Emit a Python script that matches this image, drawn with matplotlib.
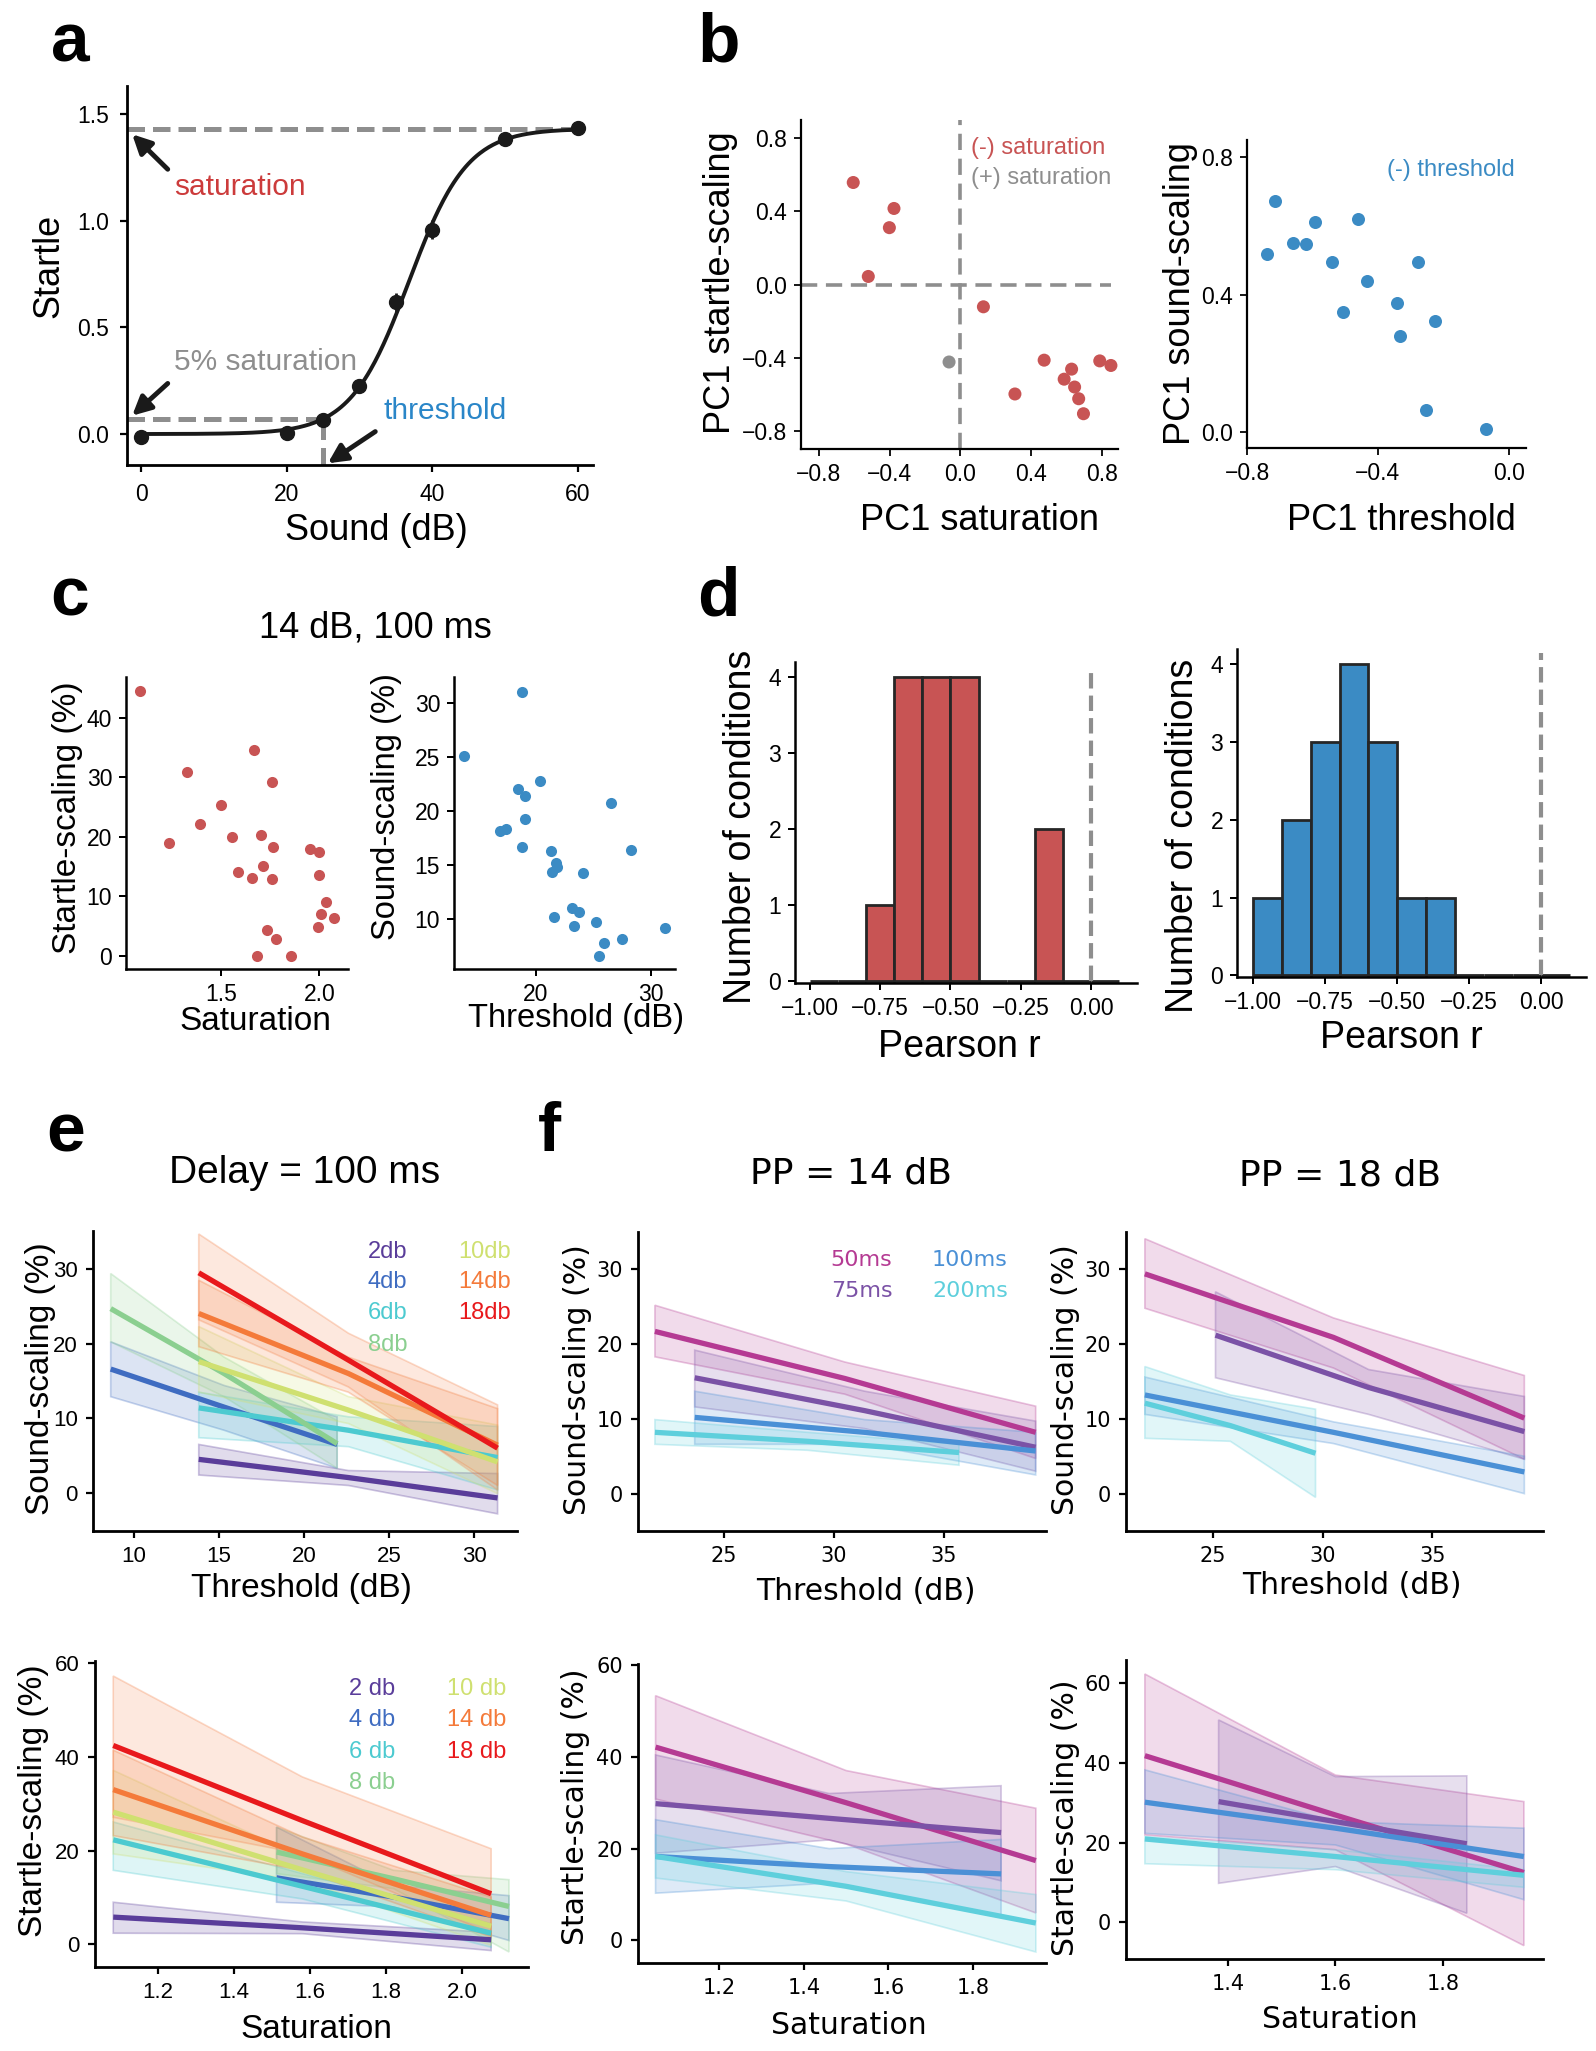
import numpy as np
import matplotlib
matplotlib.use('Agg')
import matplotlib.pyplot as plt
from matplotlib.colors import to_rgba
from matplotlib.ticker import FuncFormatter

W, H = 1596, 2051
SANS = 'Liberation Sans'
TAH = 'DejaVu Sans'

RED = '#c85454'
BLUE = '#3b8bc4'
GRAY = '#8e8e8e'

# ---- panel a: example startle curve ----
SOUND_DB = [0, 20, 25, 30, 35, 40, 50, 60]
STARTLE = [-0.013, 0.006, 0.066, 0.226, 0.617, 0.957, 1.381, 1.431]
STARTLE_ERR = [0.01, 0.01, 0.015, 0.02, 0.045, 0.045, 0.015, 0.02]
FIT_SAT = 1.43      # fitted saturation
FIT_MID = 36.8      # fitted midpoint (dB)
FIT_SLOPE = 4.0     # fitted slope (dB)
THRESH_DB = 25.0

# ---- panel b: PCA loadings ----
PC1_SAT = [-0.605, -0.375, -0.401, -0.52, 0.13, 0.473, 0.308, 0.628, 0.586,
           0.645, 0.668, 0.695, 0.787, 0.85, -0.064]
PC1_STARTLE = [0.558, 0.416, 0.311, 0.044, -0.122, -0.414, -0.599, -0.463,
               -0.518, -0.561, -0.625, -0.707, -0.418, -0.443, -0.424]
SAT_POSITIVE = [0] * 14 + [1]
PC1_THR = [-0.738, -0.713, -0.660, -0.619, -0.593, -0.540, -0.508, -0.460,
           -0.432, -0.342, -0.333, -0.278, -0.225, -0.253, -0.069]
PC1_SOUND = [0.519, 0.674, 0.551, 0.546, 0.611, 0.496, 0.350, 0.619, 0.440,
             0.374, 0.280, 0.494, 0.324, 0.064, 0.008]

# ---- panel c: 14 dB, 100 ms ----
SAT_C = [1.086, 1.233, 1.328, 1.394, 1.498, 1.557, 1.588, 1.658, 1.667, 1.701,
         1.712, 1.731, 1.758, 1.762, 1.760, 1.778, 1.681, 1.855, 1.952, 1.998,
         2.0, 2.032, 2.007, 2.075, 1.993]
STARTLE_C = [44.4, 19.0, 30.9, 22.2, 25.4, 19.9, 14.0, 13.0, 34.6, 20.3, 15.1,
             4.4, 29.2, 18.3, 12.9, 2.8, 0.0, 0.0, 18.0, 17.4, 13.6, 9.0, 7.0,
             6.3, 4.8]
THR_C = [13.77, 18.83, 18.44, 19.1, 20.35, 19.03, 16.89, 17.39, 18.83, 21.36,
         21.75, 21.87, 21.44, 24.09, 26.5, 28.29, 23.11, 23.77, 21.63, 23.35,
         25.25, 25.91, 25.53, 27.47, 31.25]
SOUND_C = [25.07, 31.0, 22.05, 21.4, 22.8, 19.3, 18.17, 18.3, 16.7, 16.26, 15.2,
           14.84, 14.31, 14.22, 20.7, 16.4, 11.0, 10.65, 10.15, 9.38, 9.75,
           7.75, 6.6, 8.15, 9.14]

# ---- panel d: histograms of Pearson r ----
BIN_LEFT = [-1.0, -0.9, -0.8, -0.7, -0.6, -0.5, -0.4, -0.3, -0.2, -0.1, 0.0]
R_SAT_COUNTS = [0, 0, 1, 4, 4, 4, 0, 0, 2, 0, 0]
R_THR_COUNTS = [1, 2, 3, 4, 3, 1, 1, 0, 0, 0, 0]

# ---- panel e: delay = 100 ms, fits per prepulse (start, middle, end) ----
E_COLORS = ['#5a3d9a', '#3f6cc1', '#4ccad0', '#8bcf90', '#cfe070', '#f47a3a', '#e8191c']
E_THR_LABELS = ['2db', '4db', '6db', '8db', '10db', '14db', '18db']
E_THR_X = [(13.81, 22.6, 31.36), (8.64, 15.3, 21.94), (13.81, 22.6, 31.36),
           (8.64, 15.3, 21.94), (13.81, 22.6, 31.36), (13.81, 22.6, 31.36),
           (13.81, 22.6, 31.36)]
E_THR_Y = [(4.5, 2.06, -0.67), (16.6, 11.5, 6.5), (11.4, 8.4, 4.74), (24.7, 16.0, 6.6),
           (17.6, 11.1, 4.16), (24.05, 16.0, 6.4), (29.5, 17.8, 6.0)]
E_THR_LO = [(2.4, 1.0, -2.8), (12.9, 8.4, 3.3), (7.4, 6.2, 0.4), (20.25, 12.9, 3.3),
            (13.5, 9.3, -0.1), (19.6, 13.5, 1.0), (23.2, 14.2, 0.4)]
E_THR_HI = [(6.5, 3.0, 2.6), (20.25, 14.4, 10.2), (13.5, 10.2, 8.9), (29.4, 18.2, 9.7),
            (22.3, 12.9, 9.1), (28.5, 18.2, 11.3), (34.7, 21.4, 11.8)]

E_SAT_LABELS = ['2 db', '4 db', '6 db', '8 db', '10 db', '14 db', '18 db']
E_SAT_X = [(1.082, 1.58, 2.077), (1.512, 1.82, 2.124), (1.082, 1.58, 2.077),
           (1.512, 1.82, 2.124), (1.082, 1.58, 2.077), (1.082, 1.58, 2.077),
           (1.082, 1.58, 2.077)]
E_SAT_Y = [(5.83, 3.55, 1.0), (14.2, 10.1, 5.5), (22.3, 12.4, 2.4), (19.7, 14.0, 8.1),
           (28.2, 15.9, 3.9), (33.0, 19.3, 6.2), (42.4, 26.4, 10.8)]
E_SAT_LO = [(2.4, 2.3, -1.3), (9.0, 8.0, 0.85), (15.8, 9.7, -0.6), (15.1, 11.9, -1.6),
            (19.3, 13.6, -0.2), (23.2, 15.8, 1.6), (27.1, 19.3, 2.3)]
E_SAT_HI = [(9.0, 4.8, 2.6), (25.0, 12.6, 10.4), (26.1, 15.1, 4.4), (25.0, 15.8, 13.8),
            (37.1, 18.6, 6.5), (41.4, 22.9, 10.1), (57.2, 35.7, 20.4)]
# the 18 db band reads as peach in the figure
E_BAND_COLORS = ['#5a3d9a', '#3f6cc1', '#4ccad0', '#8bcf90', '#cfe070', '#f47a3a', '#f4824a']

# ---- panel f: fits per delay ----
F_COLORS = ['#b53a93', '#7b52a6', '#4a90d6', '#5ecfdc']
F_LABELS = ['50ms', '75ms', '100ms', '200ms']

F14_THR_X = [(21.85, 30.5, 39.18), (23.66, 31.4, 39.18), (23.66, 31.4, 39.18), (21.85, 28.8, 35.69)]
F14_THR_Y = [(21.7, 15.4, 8.2), (15.5, 11.1, 6.2), (10.2, 8.2, 5.7), (8.2, 7.0, 5.5)]
F14_THR_LO = [(18.3, 13.3, 4.7), (11.6, 8.7, 3.0), (6.6, 6.6, 2.5), (6.6, 5.8, 3.8)]
F14_THR_HI = [(25.2, 17.6, 11.7), (19.2, 13.7, 9.7), (13.7, 9.9, 8.2), (9.9, 8.2, 6.6)]

F18_THR_X = [(21.9, 30.5, 39.2), (25.12, 32.1, 39.2), (21.9, 30.5, 39.2), (21.9, 25.8, 29.68)]
F18_THR_Y = [(29.4, 20.9, 10.1), (21.2, 14.2, 8.3), (13.2, 8.2, 2.9), (12.1, 9.1, 5.4)]
F18_THR_LO = [(24.8, 16.8, 4.6), (15.5, 10.6, 4.6), (10.6, 6.7, 0.0), (7.4, 7.0, -0.5)]
F18_THR_HI = [(34.1, 23.5, 15.8), (27.0, 16.6, 13.0), (15.6, 9.6, 5.0), (17.0, 13.2, 11.3)]

F14_SAT_X = [(1.05, 1.5, 1.948), (1.05, 1.46, 1.866), (1.05, 1.46, 1.866), (1.05, 1.5, 1.948)]
F14_SAT_Y = [(42.1, 30.0, 17.4), (29.8, 26.6, 23.5), (18.3, 16.1, 14.5), (18.3, 11.8, 3.8)]
F14_SAT_LO = [(30.8, 21.0, 6.0), (19.0, 21.9, 13.0), (10.3, 12.5, 5.0), (13.6, 8.6, -2.5)]
F14_SAT_HI = [(53.3, 37.0, 28.8), (40.4, 32.0, 33.7), (26.3, 20.0, 22.0), (23.0, 15.0, 10.0)]

F18_SAT_X = [(1.246, 1.6, 1.95), (1.383, 1.6, 1.844), (1.246, 1.6, 1.95), (1.246, 1.6, 1.95)]
F18_SAT_Y = [(41.75, 26.9, 12.5), (30.25, 25.25, 19.7), (30.1, 23.6, 16.5), (20.9, 16.5, 11.8)]
F18_SAT_LO = [(21.9, 18.2, -5.8), (9.8, 14.0, 2.3), (22.3, 19.4, 5.7), (14.7, 13.2, 8.8)]
F18_SAT_HI = [(62.2, 36.9, 30.25), (50.7, 36.5, 36.7), (38.2, 25.25, 23.6), (21.5, 18.2, 13.2)]


def add_axes_px(fig, x0, y0, x1, y1):
    return fig.add_axes([x0 / W, 1 - y1 / H, (x1 - x0) / W, (y1 - y0) / H])


def px_text(fig, x, y, s, **kw):
    fig.text(x / W, 1 - y / H, s, **kw)


def minus_fmt(fmt):
    return FuncFormatter(lambda v, p: fmt.format(v).replace('-', '\u2212'))


def style(ax, family, size, lw=1.8, pad=5):
    for s in ['top', 'right']:
        ax.spines[s].set_visible(False)
    for s in ['left', 'bottom']:
        ax.spines[s].set_linewidth(lw)
    ax.tick_params(width=lw * 0.8, length=5, labelsize=size, pad=pad,
                   labelfontfamily=family)


def labels(fig, xl, yl, xpos, ypos, family, size):
    px_text(fig, xpos[0], xpos[1], xl, ha='center', va='center', family=family, fontsize=size)
    px_text(fig, ypos[0], ypos[1], yl, ha='center', va='center', rotation=90,
            family=family, fontsize=size)


def draw_fits(ax, xs, ys, los, his, colors, band_colors=None, lw=3.8, alpha=0.2):
    band_colors = band_colors or colors
    for x, lo, hi, c in zip(xs, los, his, band_colors):
        px = list(x) + list(x[::-1])
        py = list(lo) + list(hi[::-1])
        ax.fill(px, py, facecolor=to_rgba(c, alpha), edgecolor=to_rgba(c, 0.3), lw=1.2)
    for x, y, c in zip(xs, ys, colors):
        ax.plot(x, y, color=c, lw=lw, solid_capstyle='butt')


fig = plt.figure(figsize=(W / 100, H / 100), dpi=100)

# ================= a =================
ax = add_axes_px(fig, 127, 86, 593, 465)
xs = np.linspace(0, 60, 300)
ax.plot(xs, FIT_SAT / (1 + np.exp(-(xs - FIT_MID) / FIT_SLOPE)), color='#1a1a1a', lw=2.8)
ax.errorbar(SOUND_DB, STARTLE, yerr=STARTLE_ERR, fmt='o', color='#1a1a1a', ms=10,
            elinewidth=2, capsize=0)
dash = (0, (3.5, 1.6))
five = 0.05 * FIT_SAT
ax.plot([-1.96, 61], [FIT_SAT, FIT_SAT], color=GRAY, lw=3.6, ls=dash, zorder=0)
ax.plot([-1.96, THRESH_DB], [five, five], color=GRAY, lw=3.6, ls=dash, zorder=0)
ax.plot([THRESH_DB, THRESH_DB], [-0.145, five], color=GRAY, lw=3.6, ls=dash, zorder=0)
arrow = dict(arrowstyle='-|>', lw=3.5, color='#1a1a1a', mutation_scale=28, shrinkA=0, shrinkB=0)
ax.annotate('', xy=(-1.25, 1.404), xytext=(3.64, 1.24), arrowprops=arrow, annotation_clip=False)
ax.annotate('', xy=(-1.25, 0.086), xytext=(3.64, 0.237), arrowprops=arrow, annotation_clip=False)
ax.annotate('', xy=(25.65, -0.137), xytext=(32.17, 0.0115), arrowprops=arrow, annotation_clip=False)
ax.text(4.46, 1.157, 'saturation', color='#cc3b3b', fontsize=21.5, family=SANS, va='center')
ax.text(4.46, 0.336, '5% saturation', color=GRAY, fontsize=21.5, family=SANS, va='center')
ax.text(33.26, 0.11, 'threshold', color='#2a86c8', fontsize=21.5, family=SANS, va='center')
ax.set_xlim(-1.96, 62.1)
ax.set_ylim(-0.145, 1.63)
ax.set_xticks([0, 20, 40, 60])
ax.set_yticks([0, 0.5, 1.0, 1.5])
ax.yaxis.set_major_formatter(minus_fmt('{:.1f}'))
style(ax, SANS, 16.5, lw=2.0, pad=8)
labels(fig, 'Sound (dB)', 'Startle', (376, 530), (49, 266), SANS, 26)

# ================= b =================
ax = add_axes_px(fig, 801, 120, 1118, 449)
cols = [GRAY if p else RED for p in SAT_POSITIVE]
bdash = (0, (4.5, 2.4))
ax.plot([0, 0], [-0.9, 0.9], color=GRAY, lw=2.6, ls=bdash, zorder=0)
ax.plot([-0.9, 0.85], [0, 0], color=GRAY, lw=2.6, ls=bdash, zorder=0)
ax.scatter(PC1_SAT, PC1_STARTLE, c=cols, s=88, lw=0)
ax.text(0.058, 0.746, '(-) saturation', color=RED, fontsize=17, family=SANS, va='center')
ax.text(0.058, 0.58, '(+) saturation', color=GRAY, fontsize=17, family=SANS, va='center')
ax.set_xlim(-0.9, 0.89)
ax.set_ylim(-0.9, 0.9)
ticks = [-0.8, -0.4, 0.0, 0.4, 0.8]
ax.set_xticks(ticks)
ax.set_yticks(ticks)
ax.xaxis.set_major_formatter(minus_fmt('{:.1f}'))
ax.yaxis.set_major_formatter(minus_fmt('{:.1f}'))
style(ax, SANS, 16.5, lw=1.6)
labels(fig, 'PC1 saturation', 'PC1 startle-scaling', (979, 521), (721, 283), SANS, 26)

ax = add_axes_px(fig, 1247, 140, 1526, 448)
ax.scatter(PC1_THR, PC1_SOUND, color=BLUE, s=88, lw=0)
ax.text(-0.372, 0.762, '(-) threshold', color=BLUE, fontsize=17, family=SANS, va='center')
ax.set_xlim(-0.8, 0.053)
ax.set_ylim(-0.048, 0.851)
ax.set_xticks([-0.8, -0.4, 0.0])
ax.set_yticks([0.0, 0.4, 0.8])
ax.xaxis.set_major_formatter(minus_fmt('{:.1f}'))
ax.yaxis.set_major_formatter(minus_fmt('{:.1f}'))
style(ax, SANS, 16.5, lw=1.6)
labels(fig, 'PC1 threshold', 'PC1 sound-scaling', (1401, 521), (1180, 294), SANS, 26)

# ================= c =================
ax = add_axes_px(fig, 126, 677, 348, 969)
ax.scatter(SAT_C, STARTLE_C, color=RED, s=64, lw=0)
ax.set_xlim(1.017, 2.145)
ax.set_ylim(-2.2, 46.8)
ax.set_xticks([1.5, 2.0])
ax.set_yticks([0, 10, 20, 30, 40])
ax.xaxis.set_major_formatter(minus_fmt('{:.1f}'))
style(ax, SANS, 16.5)
labels(fig, 'Saturation', 'Startle-scaling (%)', (255, 1022), (68, 818), SANS, 24)

ax = add_axes_px(fig, 454, 677, 675, 969)
ax.scatter(THR_C, SOUND_C, color=BLUE, s=64, lw=0)
ax.set_xlim(12.9, 32.1)
ax.set_ylim(5.37, 32.4)
ax.set_xticks([20, 30])
ax.set_yticks([10, 15, 20, 25, 30])
style(ax, SANS, 16.5)
labels(fig, 'Threshold (dB)', 'Sound-scaling (%)', (576, 1019), (387, 807), SANS, 23.5)
px_text(fig, 375, 628, '14 dB, 100 ms', ha='center', va='center', family=SANS, fontsize=26)

# ================= d =================
for rect, counts, color, xl, yl, xlim, ylim in [
        ((795, 662, 1137, 983), R_SAT_COUNTS, RED, (959, 1047), (741, 827), (-1.052, 0.163), (-0.02, 4.2)),
        ((1237, 649, 1586, 977), R_THR_COUNTS, BLUE, (1401, 1038), (1183, 836), (-1.056, 0.155), (-0.02, 4.19))]:
    ax = add_axes_px(fig, *rect)
    ax.bar(BIN_LEFT, counts, width=0.1, align='edge', color=color, edgecolor='#262626', lw=2)
    ax.plot([0, 0], [0, ylim[1] - 0.05], color=GRAY, lw=3, ls=(0, (3.7, 1.7)))
    ax.set_xlim(*xlim)
    ax.set_ylim(*ylim)
    ax.set_xticks([-1.0, -0.75, -0.5, -0.25, 0.0])
    ax.set_yticks([0, 1, 2, 3, 4])
    ax.xaxis.set_major_formatter(minus_fmt('{:.2f}'))
    style(ax, SANS, 16.5)
    labels(fig, 'Pearson r', 'Number of conditions', xl, yl, SANS, 27)

# ================= e =================
ax = add_axes_px(fig, 93, 1231, 517, 1531)
draw_fits(ax, E_THR_X, E_THR_Y, E_THR_LO, E_THR_HI, E_COLORS, E_BAND_COLORS, alpha=0.18)
for i, (lab, c) in enumerate(zip(E_THR_LABELS, E_COLORS)):
    x = 23.73 if i < 4 else 29.04
    y = [32.3, 28.2, 24.05, 19.8][i if i < 4 else i - 4]
    ax.text(x, y, lab, color=c, fontsize=17, family=SANS, va='center')
ax.set_xlim(7.6, 32.5)
ax.set_ylim(-5.1, 35.1)
ax.set_xticks([10, 15, 20, 25, 30])
ax.set_yticks([0, 10, 20, 30])
style(ax, SANS, 16, lw=2.0, pad=6)
labels(fig, 'Threshold (dB)', 'Sound-scaling (%)', (301, 1589), (41, 1379), SANS, 24)
px_text(fig, 305, 1173, 'Delay = 100 ms', ha='center', va='center', family=SANS, fontsize=28)

ax = add_axes_px(fig, 95, 1661, 528, 1967)
draw_fits(ax, E_SAT_X, E_SAT_Y, E_SAT_LO, E_SAT_HI, E_COLORS, E_BAND_COLORS, alpha=0.18)
for i, (lab, c) in enumerate(zip(E_SAT_LABELS, E_COLORS)):
    x = 1.704 if i < 4 else 1.96
    y = [54.5, 47.8, 41.0, 34.4][i if i < 4 else i - 4]
    ax.text(x, y, lab, color=c, fontsize=17, family=SANS, va='center')
ax.set_xlim(1.034, 2.174)
ax.set_ylim(-4.8, 60.4)
ax.set_xticks([1.2, 1.4, 1.6, 1.8, 2.0])
ax.set_yticks([0, 20, 40, 60])
ax.xaxis.set_major_formatter(minus_fmt('{:.1f}'))
style(ax, SANS, 16, lw=2.0, pad=6)
labels(fig, 'Saturation', 'Startle-scaling (%)', (316, 2029), (34, 1801), SANS, 24)

# ================= f =================
ax = add_axes_px(fig, 638, 1232, 1046, 1531)
draw_fits(ax, F14_THR_X, F14_THR_Y, F14_THR_LO, F14_THR_HI, F_COLORS, alpha=0.18)
for i, (lab, c) in enumerate(zip(F_LABELS, F_COLORS)):
    x = 29.85 if i < 2 else 34.46
    y = [31.2, 27.1][i % 2]
    ax.text(x, y, lab, color=c, fontsize=16, family=TAH, va='center')
ax.set_xlim(21.08, 39.65)
ax.set_ylim(-5, 35)
ax.set_xticks([25, 30, 35])
ax.set_yticks([0, 10, 20, 30])
style(ax, TAH, 15, lw=2.0, pad=6)
labels(fig, 'Threshold (dB)', 'Sound-scaling (%)', (866, 1591), (578, 1380), TAH, 21.5)
px_text(fig, 851, 1173, 'PP = 14 dB', ha='center', va='center', family=TAH, fontsize=26)

ax = add_axes_px(fig, 1126, 1232, 1543, 1531)
draw_fits(ax, F18_THR_X, F18_THR_Y, F18_THR_LO, F18_THR_HI, F_COLORS, alpha=0.18)
ax.set_xlim(21.04, 40.05)
ax.set_ylim(-5, 35)
ax.set_xticks([25, 30, 35])
ax.set_yticks([0, 10, 20, 30])
style(ax, TAH, 15, lw=2.0, pad=6)
labels(fig, 'Threshold (dB)', 'Sound-scaling (%)', (1352, 1585), (1066, 1380), TAH, 21.5)
px_text(fig, 1340, 1175, 'PP = 18 dB', ha='center', va='center', family=TAH, fontsize=26)

ax = add_axes_px(fig, 638, 1664, 1046, 1963)
draw_fits(ax, F14_SAT_X, F14_SAT_Y, F14_SAT_LO, F14_SAT_HI, F_COLORS, alpha=0.18)
ax.set_xlim(1.0085, 1.972)
ax.set_ylim(-4.9, 60.2)
ax.set_xticks([1.2, 1.4, 1.6, 1.8])
ax.set_yticks([0, 20, 40, 60])
ax.xaxis.set_major_formatter(minus_fmt('{:.1f}'))
style(ax, TAH, 15, lw=2.0, pad=6)
labels(fig, 'Saturation', 'Startle-scaling (%)', (849, 2026), (576, 1807), TAH, 21.5)

ax = add_axes_px(fig, 1126, 1660, 1543, 1959)
draw_fits(ax, F18_SAT_X, F18_SAT_Y, F18_SAT_LO, F18_SAT_HI, F_COLORS, alpha=0.18)
ax.set_xlim(1.211, 1.9855)
ax.set_ylim(-9.15, 65.7)
ax.set_xticks([1.4, 1.6, 1.8])
ax.set_yticks([0, 20, 40, 60])
ax.xaxis.set_major_formatter(minus_fmt('{:.1f}'))
style(ax, TAH, 15, lw=2.0, pad=6)
labels(fig, 'Saturation', 'Startle-scaling (%)', (1340, 2019), (1066, 1818), TAH, 21.5)

# panel letters
for letter, x, y in [('a', 51, 62), ('b', 697, 62), ('c', 50, 615),
                     ('d', 697, 615), ('e', 46, 1152), ('f', 538, 1151)]:
    px_text(fig, x, y, letter, ha='left', va='baseline', family=SANS,
            fontweight='bold', fontsize=50)

fig.savefig('out.png', dpi=100)
